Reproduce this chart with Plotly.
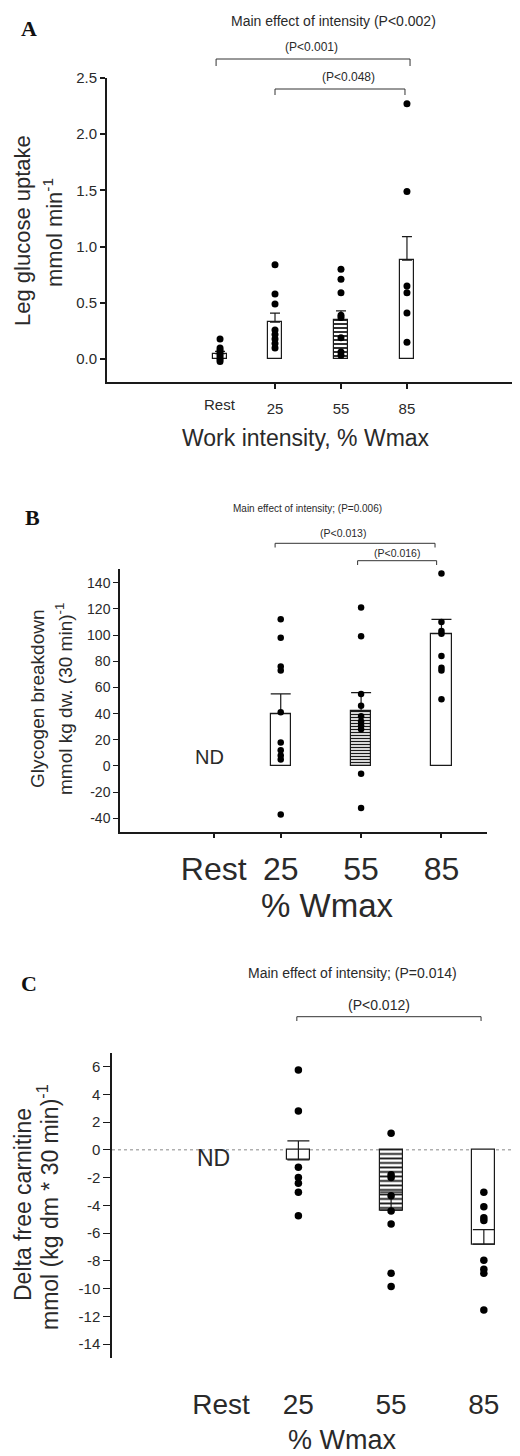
import plotly.graph_objects as go

W, H = 520, 1456
OFF = 8  # page body margin of the rendered html

# ---------------- data ----------------
categories = ["Rest", "25", "55", "85"]
x_pos = [0, 25, 55, 85]          # work intensity (% Wmax), Rest = 0

# Panel A: leg glucose uptake (mmol min-1)
a_means = [0.05, 0.33, 0.35, 0.88]
a_sem = [0.02, 0.08, 0.08, 0.21]
a_rest = [0.18, 0.10, 0.08, 0.06, 0.04, 0.02, 0.00, -0.02]
a_25 = [0.84, 0.58, 0.49, 0.26, 0.22, 0.18, 0.14, 0.10]
a_55 = [0.80, 0.71, 0.59, 0.39, 0.37, 0.19, 0.065, 0.035]
a_85 = [2.27, 1.49, 0.65, 0.59, 0.41, 0.15]
a_yticks = [0, 0.5, 1.0, 1.5, 2.0, 2.5]

# Panel B: glycogen breakdown (mmol kg dw (30 min)-1); Rest = ND
b_means = [None, 40, 42, 101]
b_sem = [None, 15, 14, 11]
b_25 = [112, 98, 76, 73, 41, 18, 12, 8, 5, -37]
b_55 = [121, 99, 55, 46, 38, 34, 31, 28, -6, -32]
b_85 = [147, 110, 103, 101, 84, 75, 73, 51]
b_yticks = [-40, -20, 0, 20, 40, 60, 80, 100, 120, 140]

# Panel C: delta free carnitine (mmol (kg dm * 30 min)-1); Rest = ND
c_means = [None, -0.72, -4.35, -6.8]
c_sem = [None, 1.37, 1.3, 1.05]
c_25 = [5.75, 2.8, -1.25, -2.0, -2.4, -3.05, -4.75]
c_55 = [1.2, -1.8, -2.0, -3.3, -4.4, -5.35, -8.9, -9.85]
c_85 = [-3.05, -4.1, -4.9, -5.1, -7.95, -8.6, -8.9, -11.55]
c_yticks = [-14, -12, -10, -8, -6, -4, -2, 0, 2, 4, 6]

hatch = ["", "", "-", ""]

SANS = "Liberation Sans, Arial, sans-serif"
SERIF = "Liberation Serif, Times New Roman, serif"
TXT = "#2a2a2a"
AX = "#1a1a1a"


def px(x):
    return (x - OFF) / W


def py(y):
    return 1 - (y - OFF) / H


fig = go.Figure()


def add_panel(xa, ya, xs, means, sems, pts, barw, capw, msize, psize, sol):
    keep = [i for i, m in enumerate(means) if m is not None]
    fig.add_trace(go.Bar(
        x=[xs[i] for i in keep], y=[means[i] for i in keep], width=barw,
        xaxis=xa, yaxis=ya,
        marker=dict(color="white", line=dict(color=AX, width=1.2),
                    pattern=dict(shape=[hatch[i] for i in keep], fgcolor=AX,
                                 bgcolor="white", size=psize, solidity=sol)),
        error_y=dict(type="data", symmetric=False,
                     array=[sems[i] for i in keep],
                     arrayminus=[0 for _ in keep],
                     color=AX, thickness=1.2, width=capw),
        hoverinfo="skip"))
    for xv, vals in zip(xs, pts):
        if vals is None:
            continue
        fig.add_trace(go.Scatter(
            x=[xv] * len(vals), y=vals, mode="markers", xaxis=xa, yaxis=ya,
            marker=dict(color="black", size=msize), hoverinfo="skip"))


add_panel("x", "y", x_pos, a_means, a_sem, [a_rest, a_25, a_55, a_85],
          6.4, 5, 7, 4, 0.45)
add_panel("x2", "y2", x_pos, b_means, b_sem, [None, b_25, b_55, b_85],
          7.5, 10, 6.5, 3, 0.45)
add_panel("x3", "y3", x_pos, c_means, c_sem, [None, c_25, c_55, c_85],
          7.4, 11, 7.5, 4.5, 0.4)

common_ax = dict(showgrid=False, zeroline=False, fixedrange=True,
                 automargin=False, linecolor=AX, tickcolor=AX, color=TXT)

layout = dict(
    template="none",
    width=W, height=H, autosize=False,
    margin=dict(l=0, r=0, t=0, b=0, pad=0),
    paper_bgcolor="white", plot_bgcolor="white", showlegend=False,
    bargap=0,
    # ---- Panel A
    xaxis=dict(common_ax, domain=[px(107), px(520)], range=[-51.4, 136.4],
               anchor="y", tickvals=x_pos[1:], ticktext=categories[1:],
               ticks="outside", ticklen=5, tickwidth=1.5, showline=True,
               linewidth=2, tickfont=dict(family=SANS, size=15, color=TXT),
               ticklabelstandoff=7),
    yaxis=dict(common_ax, domain=[py(381.7), py(78)], range=[-0.2, 2.5],
               anchor="x", tickvals=a_yticks,
               ticktext=[f"{v:.1f}" for v in a_yticks],
               ticks="outside", ticklen=5, tickwidth=1.5,
               showline=True, linewidth=2,
               tickfont=dict(family=SANS, size=15, color=TXT)),
    # ---- Panel B
    xaxis2=dict(common_ax, domain=[px(120), px(487)], range=[-35, 102],
                anchor="y2", tickvals=x_pos, ticktext=categories,
                ticks="outside", ticklen=4, tickwidth=1.5, showline=True,
                linewidth=1.5, tickfont=dict(family=SANS, size=32, color=TXT),
                ticklabelstandoff=4),
    yaxis2=dict(common_ax, domain=[py(832), py(569)], range=[-50.4, 150.4],
                anchor="x2", tickvals=b_yticks,
                ticktext=[str(v) for v in b_yticks],
                ticks="outside", ticklen=5, tickwidth=1.2, showline=True,
                linewidth=1.5, tickfont=dict(family=SANS, size=14, color=TXT)),
    # ---- Panel C
    xaxis3=dict(common_ax, domain=[px(112), px(520)], range=[-35.3, 96.7],
                anchor="y3", tickvals=x_pos, ticktext=categories,
                ticks="", showline=False,
                tickfont=dict(family=SANS, size=28, color=TXT),
                ticklabelstandoff=27),
    yaxis3=dict(common_ax, domain=[py(1358), py(1052.7)], range=[-15, 7],
                anchor="x3", tickvals=c_yticks,
                ticktext=[str(v) for v in c_yticks],
                ticks="outside", ticklen=7, tickwidth=1.2, showline=True,
                linewidth=1.5, tickfont=dict(family=SANS, size=15, color=TXT)),
)
fig.update_layout(**layout)

ann = []


def text(x, y, s, size, family=SANS, angle=0, color=TXT, xref="paper", **kw):
    ann.append(dict(x=px(x) if xref == "paper" else x, y=py(y), xref=xref,
                    yref="paper", text=s, showarrow=False, textangle=angle,
                    xanchor="center", yanchor="middle",
                    font=dict(family=family, size=size, color=color), **kw))


# panel letters
text(29, 29, "<b>A</b>", 22, SERIF, color="#111")
text(32, 518, "<b>B</b>", 22, SERIF, color="#111")
text(29, 984, "<b>C</b>", 22, SERIF, color="#111")

# Panel A texts
text(333, 21, "Main effect of intensity (P<0.002)", 14)
text(311, 47, "(P<0.001)", 12)
text(348, 77, "(P<0.048)", 12)
text(22, 231, "Leg glucose uptake", 22, angle=-90)
text(53, 233, "mmol min<sup>-1</sup>", 22, angle=-90)
text(x_pos[0], 405, categories[0], 15, xref="x")
text(306, 438, "Work intensity, % Wmax", 23)

# Panel B texts
text(307, 508, "Main effect of intensity; (P=0.006)", 10)
text(343, 533, "(P<0.013)", 10.5)
text(397, 553, "(P<0.016)", 10.5)
text(37, 699, "Glycogen breakdown", 19, angle=-90)
text(64, 699, "mmol kg dw. (30 min)<sup>-1</sup>", 19, angle=-90)
text(209, 757, "ND", 20)
text(327, 905, "% Wmax", 33)

# Panel C texts
text(352, 973, "Main effect of intensity; (P=0.014)", 14)
text(379, 1005, "(P<0.012)", 14)
text(23, 1205, "Delta free carnitine", 23, angle=-90)
text(48, 1207, "mmol (kg dm * 30 min)<sup>-1</sup>", 23, angle=-90)
text(213, 1158, "ND", 23)
text(342, 1440, "% Wmax", 27)

fig.update_layout(annotations=ann)

shapes = []


def bracket(xref, x0, x1, ytop, ybot):
    shapes.append(dict(type="path", xref=xref, yref="paper",
                       path=f"M {x0},{py(ybot)} L {x0},{py(ytop)} L {x1},{py(ytop)} L {x1},{py(ybot)}",
                       line=dict(color="#333", width=1)))


bracket("x", x_pos[0] - 1.8, x_pos[3] + 1.4, 59, 66)
bracket("x", x_pos[1], x_pos[3] - 0.9, 89, 95)
bracket("x2", x_pos[1] - 2.1, x_pos[3] - 2.4, 543.3, 547.5)
bracket("x2", x_pos[2] - 1.3, x_pos[3] - 1.8, 560.7, 565)
bracket("x3", x_pos[1] - 0.5, x_pos[3] - 0.9, 1016.7, 1021)

shapes.append(dict(type="line", xref="x3 domain", yref="y3", x0=0, x1=1,
                   y0=0, y1=0, layer="below",
                   line=dict(color="#888", width=1, dash="dot")))
fig.update_layout(shapes=shapes)

fig.write_html("out.html")
